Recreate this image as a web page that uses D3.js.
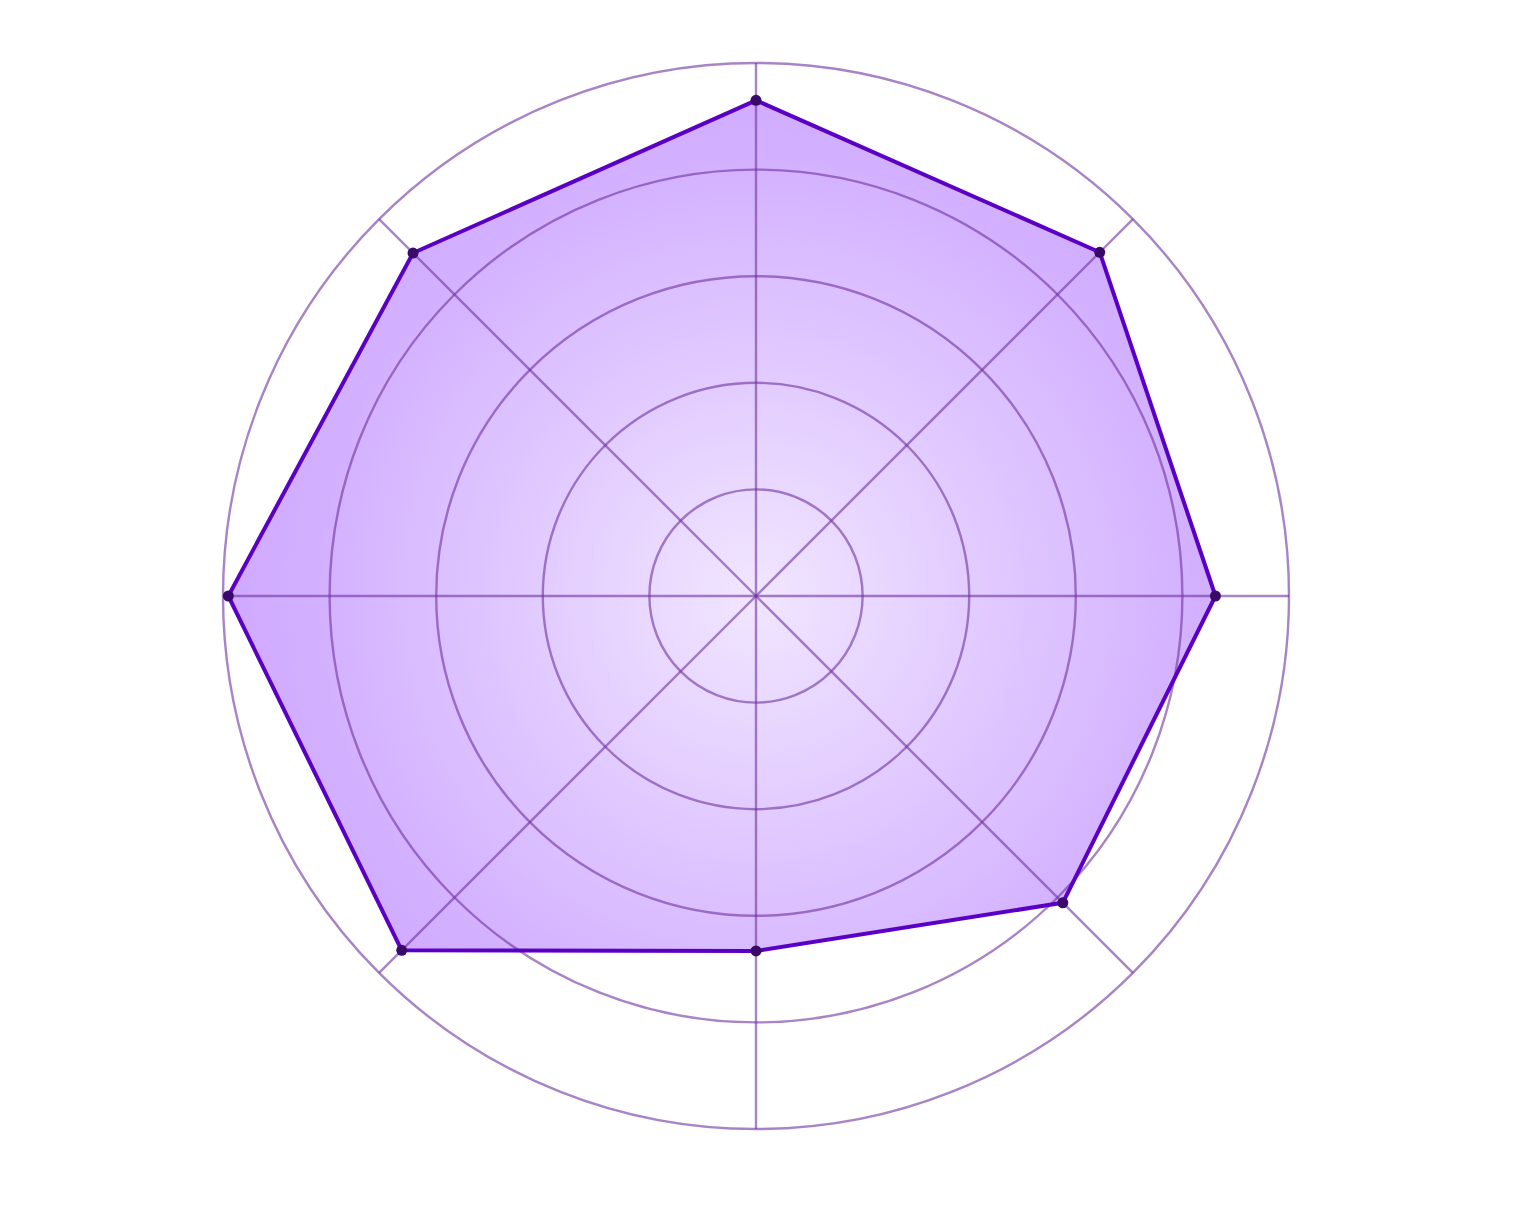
<!DOCTYPE html>
<html><head><meta charset="utf-8">
<script src="https://cdn.jsdelivr.net/npm/d3@7"></script>
<style>html,body{margin:0;padding:0;background:#fff;}</style>
</head><body>
<svg id="chart" width="1520" height="1219"></svg>
<script>
const axes = ["A","B","C","D","E","F","G","H"];
const values = [4.65, 4.56, 4.31, 4.07, 3.33, 4.70, 4.95, 4.55];
const ringLevels = [1, 2, 3, 4, 5];
const maxValue = 5;

const svg = d3.select("#chart");
const cx = 756, cy = 596, R = 533;
const g = svg.append("g").attr("transform", `translate(${cx},${cy})`);
const rScale = d3.scaleLinear().domain([0, maxValue]).range([0, R]);
const angle = d3.scaleLinear().domain([0, axes.length]).range([0, 2 * Math.PI]);

const defs = svg.append("defs");
const grad = defs.append("radialGradient").attr("id", "fillGrad")
  .attr("gradientUnits", "userSpaceOnUse").attr("cx", 0).attr("cy", 0).attr("r", R);
grad.append("stop").attr("offset", "0%").attr("stop-color", "#f1e6ff");
grad.append("stop").attr("offset", "80%").attr("stop-color", "#d4b2ff");
grad.append("stop").attr("offset", "100%").attr("stop-color", "#cfa8ff");

const line = d3.lineRadial()
  .angle((d, i) => angle(i))
  .radius(d => rScale(d))
  .curve(d3.curveLinearClosed);

g.append("path").datum(values)
  .attr("d", line)
  .attr("fill", "url(#fillGrad)")
  .attr("stroke", "none");

// grid
g.selectAll("circle.ring").data(ringLevels).enter().append("circle")
  .attr("class", "ring")
  .attr("r", d => rScale(d))
  .attr("fill", "none")
  .attr("stroke", "rgba(110,50,160,0.6)")
  .attr("stroke-width", 2.4);

g.selectAll("line.axis").data(axes).enter().append("line")
  .attr("class", "axis")
  .attr("x1", 0).attr("y1", 0)
  .attr("x2", (d, i) => rScale(maxValue) * Math.sin(angle(i)))
  .attr("y2", (d, i) => -rScale(maxValue) * Math.cos(angle(i)))
  .attr("stroke", "rgba(110,50,160,0.6)")
  .attr("stroke-width", 2.4);

g.append("path").datum(values)
  .attr("d", line)
  .attr("fill", "none")
  .attr("stroke", "#5a00c4")
  .attr("stroke-width", 4)
  .attr("stroke-linejoin", "round");

g.selectAll("circle.pt").data(values).enter().append("circle")
  .attr("class", "pt")
  .attr("cx", (d, i) => rScale(d) * Math.sin(angle(i)))
  .attr("cy", (d, i) => -rScale(d) * Math.cos(angle(i)))
  .attr("r", 5.5)
  .attr("fill", "#3a0a6a");
</script>
</body></html>
